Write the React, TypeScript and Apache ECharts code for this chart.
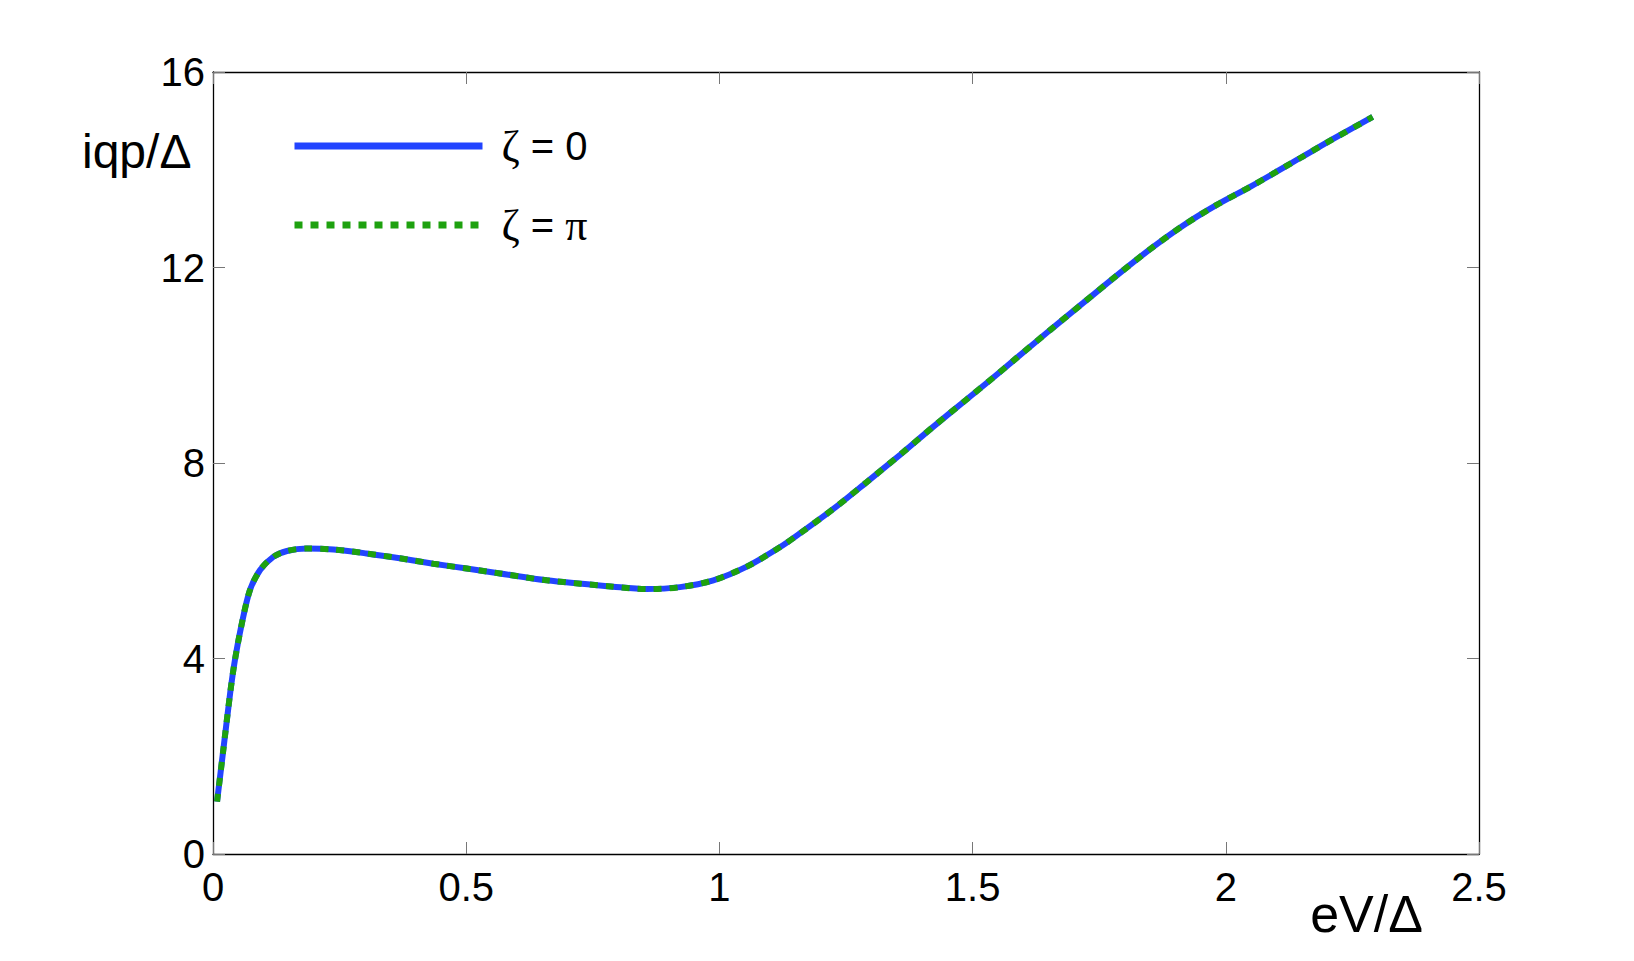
import React, { useEffect, useRef } from "react";
import * as echarts from "echarts";

// eV/Δ values
const voltage = [
  0.008, 0.02, 0.034, 0.043, 0.057, 0.073, 0.093, 0.119, 0.146, 0.185, 0.238,
  0.303, 0.369, 0.435, 0.501, 0.567, 0.659, 0.79, 0.856, 0.922, 0.988, 1.054,
  1.12, 1.159, 1.225, 1.291, 1.357, 1.422, 1.488, 1.541, 1.587, 1.653, 1.719,
  1.785, 1.85, 1.916, 1.982, 2.048, 2.147, 2.212, 2.29,
];
// i_qp/Δ for ζ = 0
const currentZeta0 = [
  1.07, 2.1, 3.3, 3.95, 4.72, 5.4, 5.81, 6.08, 6.2, 6.25, 6.23, 6.15, 6.05,
  5.94, 5.84, 5.74, 5.6, 5.47, 5.42, 5.46, 5.6, 5.88, 6.28, 6.56, 7.06, 7.61,
  8.17, 8.74, 9.3, 9.75, 10.15, 10.72, 11.28, 11.84, 12.37, 12.86, 13.28, 13.65,
  14.24, 14.63, 15.08,
];
// i_qp/Δ for ζ = π (coincides with ζ = 0)
const currentZetaPi = [
  1.07, 2.1, 3.3, 3.95, 4.72, 5.4, 5.81, 6.08, 6.2, 6.25, 6.23, 6.15, 6.05,
  5.94, 5.84, 5.74, 5.6, 5.47, 5.42, 5.46, 5.6, 5.88, 6.28, 6.56, 7.06, 7.61,
  8.17, 8.74, 9.3, 9.75, 10.15, 10.72, 11.28, 11.84, 12.37, 12.86, 13.28, 13.65,
  14.24, 14.63, 15.08,
];
const seriesNames = ["ζ = 0", "ζ = π"];
const xTicks = { min: 0, max: 2.5, interval: 0.5 };
const yTicks = { min: 0, max: 16, interval: 4 };

const FONT = "'Liberation Sans', Arial, Helvetica, sans-serif";
const SERIF = "'Liberation Serif', 'DejaVu Serif', serif";
const BLUE = "#2244ff";
const GREEN = "#1ea10f";

export default function App() {
  const ref = useRef<HTMLDivElement>(null);
  useEffect(() => {
    if (!ref.current) return;
    const chart = echarts.init(ref.current, null, { renderer: "svg" });
    const pairs = (ys: number[]) => voltage.map((x, i) => [x, ys[i]]);
    const tick = { show: true, inside: true, length: 12, lineStyle: { color: "#777", width: 1 } };
    const axisLine = { show: true, onZero: false, lineStyle: { color: "#000", width: 1.3 } };
    chart.setOption({
      animation: false,
      backgroundColor: "#fff",
      grid: { left: 213, right: 155, top: 72, bottom: 107, containLabel: false },
      legend: {
        orient: "vertical",
        left: 286,
        top: 119,
        itemWidth: 188,
        itemHeight: 14,
        itemGap: 35,
        data: seriesNames,
        lineStyle: { width: 7 },
        itemStyle: { opacity: 0 },
        formatter: (name: string) =>
          name === seriesNames[0] ? "{g|ζ} = 0" : "{g|ζ} = {g|π}",
        textStyle: {
          fontFamily: FONT,
          fontSize: 40,
          color: "#000",
          lineHeight: 40,
          padding: [0, 0, 0, 14],
          rich: {
            g: { fontFamily: SERIF, fontSize: 44, lineHeight: 40, color: "#000" },
          },
        },
      },
      xAxis: [
        {
          type: "value",
          min: xTicks.min,
          max: xTicks.max,
          interval: xTicks.interval,
          position: "bottom",
          axisLine,
          axisTick: tick,
          splitLine: { show: false },
          axisLabel: { fontFamily: FONT, fontSize: 40, color: "#000", margin: 13 },
          name: "eV/Δ",
          nameLocation: "end",
          nameGap: -56,
          nameTextStyle: {
            fontFamily: FONT,
            fontSize: 52,
            color: "#000",
            align: "right",
            verticalAlign: "top",
            padding: [34, 0, 0, 0],
          },
        },
        {
          type: "value",
          min: xTicks.min,
          max: xTicks.max,
          interval: xTicks.interval,
          position: "top",
          axisLine,
          axisTick: tick,
          splitLine: { show: false },
          axisLabel: { show: false },
        },
      ],
      yAxis: [
        {
          type: "value",
          min: yTicks.min,
          max: yTicks.max,
          interval: yTicks.interval,
          position: "left",
          axisLine,
          axisTick: tick,
          splitLine: { show: false },
          axisLabel: { fontFamily: FONT, fontSize: 40, color: "#000", margin: 8 },
        },
        {
          type: "value",
          min: yTicks.min,
          max: yTicks.max,
          interval: yTicks.interval,
          position: "right",
          axisLine,
          axisTick: tick,
          splitLine: { show: false },
          axisLabel: { show: false },
        },
      ],
      graphic: [
        {
          type: "text",
          left: 82,
          top: 127,
          style: { text: "iqp/Δ", font: `48px ${FONT}`, fill: "#000" },
        },
      ],
      series: [
        {
          name: seriesNames[0],
          type: "line",
          xAxisIndex: 0,
          yAxisIndex: 0,
          data: pairs(currentZeta0),
          symbol: "none",
          smooth: 0.3,
          lineStyle: { color: BLUE, width: 6, cap: "butt" },
          itemStyle: { color: BLUE },
          z: 2,
        },
        {
          name: seriesNames[1],
          type: "line",
          xAxisIndex: 0,
          yAxisIndex: 0,
          data: pairs(currentZetaPi),
          symbol: "none",
          smooth: 0.3,
          lineStyle: { color: GREEN, width: 6, type: [8, 8], cap: "butt" },
          itemStyle: { color: GREEN },
          z: 3,
        },
      ],
    });
    return () => chart.dispose();
  }, []);
  return (
    <div
      ref={ref}
      style={{ position: "fixed", left: 0, top: 0, width: 1634, height: 961, background: "#fff" }}
    />
  );
}
